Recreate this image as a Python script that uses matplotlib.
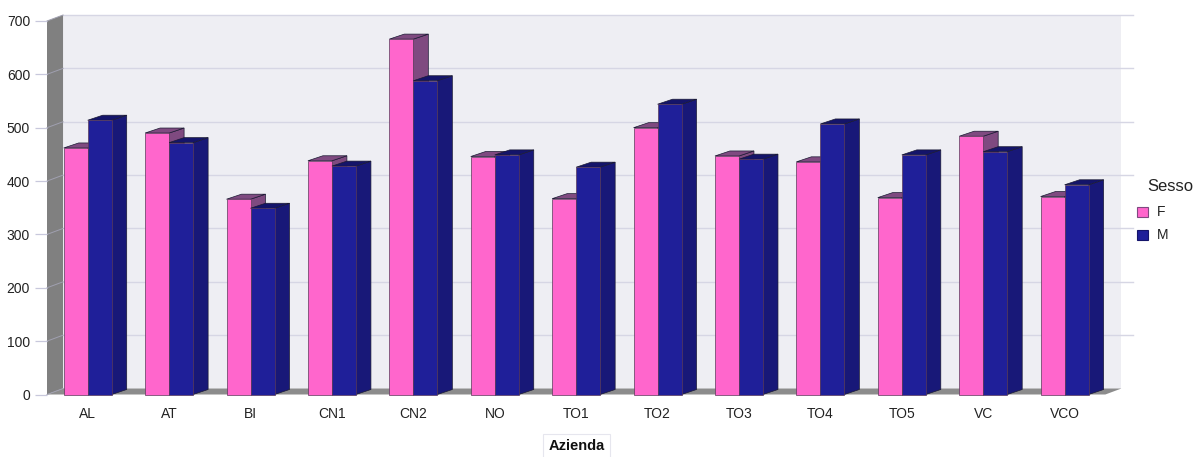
import matplotlib
matplotlib.use("Agg")
import matplotlib.pyplot as plt
from matplotlib.patches import Polygon, Rectangle

plt.rcParams['font.family'] = ['Liberation Sans', 'DejaVu Sans']

# dati per azienda sanitaria, suddivisi per sesso
aziende = ['AL', 'AT', 'BI', 'CN1', 'CN2', 'NO', 'TO1', 'TO2', 'TO3', 'TO4', 'TO5', 'VC', 'VCO']
femmine = [462, 490, 366, 438, 666, 446, 367, 500, 447, 436, 369, 484, 371]
maschi = [514, 472, 349, 428, 588, 449, 426, 544, 441, 507, 449, 455, 393]
yticks = [0, 100, 200, 300, 400, 500, 600, 700]
sessi = ['F', 'M']

colori = {
    'F': ('#ff66cc', '#7f4a80', '#7f4a80'),   # fronte, lato, cima
    'M': ('#1f1f99', '#181878', '#14146a'),
}

n = len(aziende)
bar_w = 0.295
bar_dx, bar_dy = 0.184, 9.4       # profondita' delle barre
wall_dx, wall_dy = 0.197, 11.2    # profondita' di pareti e pavimento
x_max = 13.34
y_top = 700

W, H = 1200, 457
fig = plt.figure(figsize=(12, 4.57), dpi=100)
ax = fig.add_axes([47 / W, (H - 394.5) / H, 1086 / W, 379.5 / H])
ax.set_xlim(0, x_max)
ax.set_ylim(0, y_top + wall_dy)
for s in ax.spines.values():
    s.set_visible(False)
ax.patch.set_visible(False)


def poly(pts, fc, ec='none', lw=0.0, z=1):
    ax.add_patch(Polygon(pts, closed=True, facecolor=fc, edgecolor=ec,
                         linewidth=lw, zorder=z, clip_on=False))


# parete di fondo
poly([(wall_dx, wall_dy), (n + wall_dx, wall_dy), (n + wall_dx, y_top + wall_dy),
      (wall_dx, y_top + wall_dy)], '#eeeef3', z=0)

# griglia sulla parete di fondo
for v in yticks[1:]:
    ax.plot([wall_dx, x_max], [v + wall_dy, v + wall_dy], color='#d6d6e4', lw=1.0, zorder=0.5,
            clip_on=False)

# parete sinistra e pavimento
poly([(0, 0), (wall_dx, wall_dy), (wall_dx, y_top + wall_dy), (0, y_top)], '#808080', z=1)
poly([(0, 0), (n, 0), (n + wall_dx, wall_dy), (wall_dx, wall_dy)], '#8c8c8c', z=1)
for v in yticks:
    ax.plot([0, wall_dx], [v, v + wall_dy], color='#a0a0b0', lw=0.7, zorder=1.5, clip_on=False)


def bar3d(x0, h, key):
    front, side, top = colori[key]
    ec = '#1a1a33'
    poly([(x0 + bar_w, 0), (x0 + bar_w + bar_dx, bar_dy), (x0 + bar_w + bar_dx, h + bar_dy),
          (x0 + bar_w, h)], side, ec, 0.5, z=2)
    poly([(x0, h), (x0 + bar_w, h), (x0 + bar_w + bar_dx, h + bar_dy), (x0 + bar_dx, h + bar_dy)],
         top, ec, 0.5, z=2)
    poly([(x0, 0), (x0 + bar_w, 0), (x0 + bar_w, h), (x0, h)], front, '#5a3a5a', 0.5, z=2)


for i in range(n):
    c = i + 0.5
    bar3d(c - bar_w, femmine[i], 'F')
    bar3d(c, maschi[i], 'M')

# assi
ax.set_yticks(yticks)
ax.set_yticklabels([str(v) for v in yticks], fontsize=10, color='#222222')
ax.tick_params(axis='y', length=8.6, width=0.9, color='#c8c8dc', pad=3.6)
ax.set_xticks([i + 0.5 for i in range(n)])
ax.set_xticklabels(aziende, fontsize=10, color='#222222')
ax.tick_params(axis='x', length=0, pad=9)

fig.text(576.5 / W, 1 - 446.5 / H, 'Azienda', ha='center', va='center', fontsize=10.5,
         fontweight='bold', color='#111111',
         bbox=dict(boxstyle='square,pad=0.35', facecolor='white', edgecolor='#e6e6ee', lw=0.8))

# legenda
fig.text(1147 / W, 1 - 186 / H, 'Sesso', ha='left', va='center', fontsize=12, color='#222222')
bordi = {'F': '#7f4a80', 'M': '#14146a'}
for k, key in enumerate(sessi):
    yc = 212 + 23 * k
    fig.patches.append(Rectangle((1137 / W, 1 - (yc + 5) / H), 11 / W, 10 / H,
                                 facecolor=colori[key][0], edgecolor=bordi[key], lw=0.8,
                                 transform=fig.transFigure, figure=fig))
    fig.text(1157 / W, 1 - yc / H, key, ha='left', va='center', fontsize=10, color='#222222')

fig.savefig('out.png', dpi=100)
